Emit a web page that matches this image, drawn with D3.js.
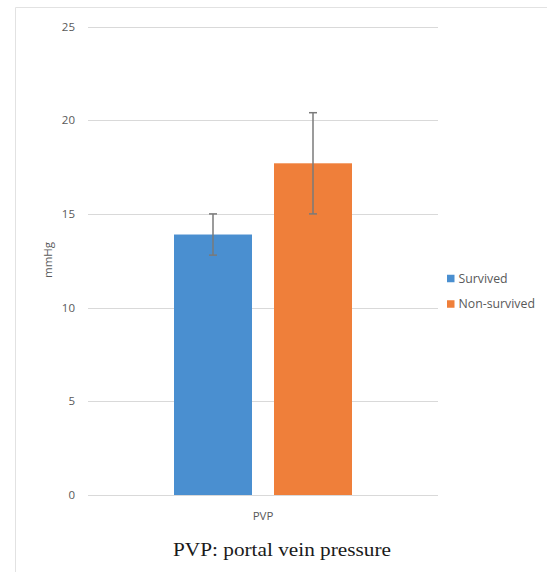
<!DOCTYPE html>
<html><head><meta charset="utf-8">
<script src="https://cdn.jsdelivr.net/npm/d3@7"></script>
<style>body{margin:0;background:#fff}</style>
</head><body>
<svg id="c" width="547" height="572"></svg>
<script>
const categories = ["PVP"];
const seriesNames = ["Survived", "Non-survived"];
const seriesValues = [13.9, 17.7];
const seriesErrors = [1.1, 2.7];
const yTicks = [0, 5, 10, 15, 20, 25];
const colors = ["#4a8fd0", "#ef7f3a"];

const svg = d3.select("#c");
const font = "'Open Sans', 'Liberation Sans', sans-serif";
const txt = "#595959";

// frame
svg.append("path").attr("d", "M15.5,572 V7.5 H547").attr("fill", "none").attr("stroke", "#e2e2e2").attr("stroke-width", 1);

const x0 = d3.scaleBand().domain(categories).range([88, 438]);
const y = d3.scaleLinear().domain([0, 25]).range([495, 26.5]);
const x1 = d3.scaleBand().domain(seriesNames).range([174, 352]).paddingInner(0.22);

// grid
svg.append("g").selectAll("line").data(yTicks).join("line")
  .attr("x1", 88).attr("x2", 438)
  .attr("y1", d => Math.round(y(d)) + 0.5).attr("y2", d => Math.round(y(d)) + 0.5)
  .attr("stroke", "#d9d9d9").attr("stroke-width", 1);

// y labels
svg.append("g").selectAll("text").data(yTicks).join("text")
  .attr("x", 75).attr("y", d => y(d)).attr("dy", "0.35em")
  .attr("text-anchor", "end").attr("font-family", font).attr("font-size", 11.5).attr("fill", txt)
  .text(d => d);

// axis title
svg.append("text").attr("transform", "translate(48,260) rotate(-90)")
  .attr("text-anchor", "middle").attr("dy", "0.35em")
  .attr("font-family", font).attr("font-size", 11.5).attr("fill", txt).text("mmHg");

// bars
const data = seriesNames.map((s, i) => ({ s, v: seriesValues[i], e: seriesErrors[i], c: colors[i] }));
svg.append("g").selectAll("rect").data(data).join("rect")
  .attr("x", d => x1(d.s)).attr("width", x1.bandwidth())
  .attr("y", d => y(d.v)).attr("height", d => y(0) - y(d.v))
  .attr("fill", d => d.c);

// error bars
const eg = svg.append("g").attr("stroke", "#7a7a7a").attr("stroke-width", 1.5);
data.forEach(d => {
  const cx = x1(d.s) + x1.bandwidth() / 2;
  eg.append("line").attr("x1", cx).attr("x2", cx).attr("y1", y(d.v + d.e)).attr("y2", y(d.v - d.e));
  eg.append("line").attr("x1", cx - 4).attr("x2", cx + 4).attr("y1", y(d.v + d.e)).attr("y2", y(d.v + d.e));
  eg.append("line").attr("x1", cx - 4).attr("x2", cx + 4).attr("y1", y(d.v - d.e)).attr("y2", y(d.v - d.e));
});

// category label
svg.append("g").selectAll("text").data(categories).join("text")
  .attr("x", d => x0(d) + x0.bandwidth() / 2).attr("y", 516).attr("dy", "0.35em")
  .attr("text-anchor", "middle").attr("font-family", font).attr("font-size", 11.5).attr("fill", txt)
  .text(d => d);

// legend
const lg = svg.append("g").selectAll("g").data(data).join("g")
  .attr("transform", (d, i) => `translate(447,${278.5 + i * 25.5})`);
lg.append("rect").attr("x", 0).attr("y", -3.75).attr("width", 7.5).attr("height", 7.5).attr("fill", d => d.c);
lg.append("text").attr("x", 11.5).attr("dy", "0.35em").attr("font-family", font).attr("font-size", 12.3).attr("fill", txt).text(d => d.s);

// caption
svg.append("text").attr("x", 282).attr("y", 555.5).attr("text-anchor", "middle")
  .attr("font-family", "'Liberation Serif', 'Times New Roman', serif").attr("font-size", 19.5).attr("fill", "#1a1a1a")
  .attr("textLength", 218).attr("lengthAdjust", "spacingAndGlyphs")
  .text("PVP: portal vein pressure");
</script>
</body></html>
